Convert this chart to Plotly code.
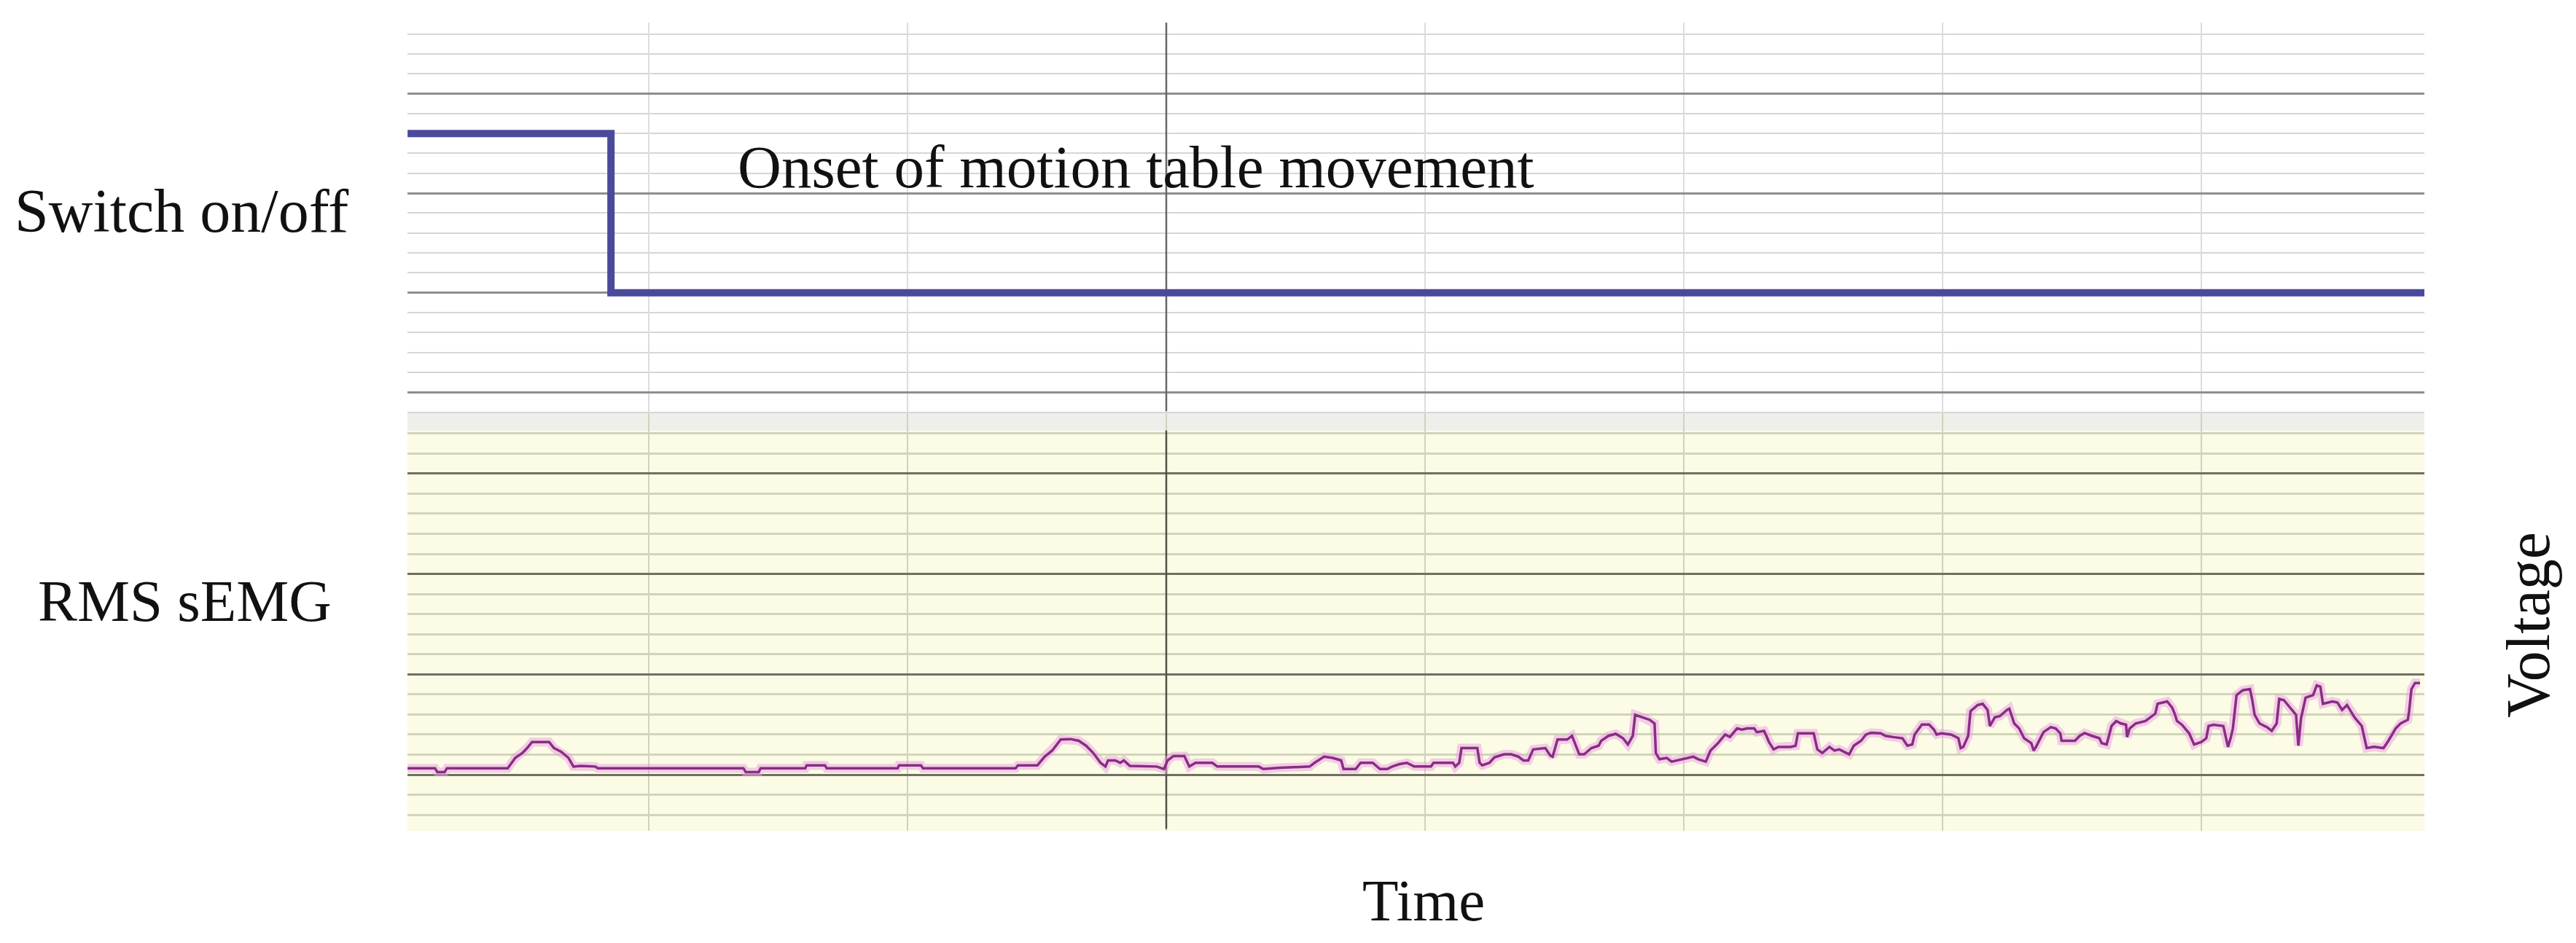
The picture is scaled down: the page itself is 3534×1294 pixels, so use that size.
import plotly.graph_objects as go

# ---------------- data ----------------
switch_time = [0.068, 0.854, 0.854, 7.87]
switch_value = [2.6, 2.6, 1.0, 1.0]

emg_time = [
    0.068, 0.174, 0.183, 0.211, 0.220, 0.455, 0.484, 0.512, 0.530, 0.549,
    0.615, 0.634, 0.662, 0.690, 0.709, 0.737, 0.794, 0.803, 1.366, 1.375,
    1.425, 1.432, 1.605, 1.610, 1.681, 1.688, 1.962, 1.967, 2.052, 2.060,
    2.418, 2.427, 2.502, 2.530, 2.559, 2.577, 2.592, 2.630, 2.662, 2.690,
    2.718, 2.746, 2.765, 2.775, 2.803, 2.822, 2.836, 2.859, 2.963, 2.991,
    3.005, 3.028, 3.070, 3.089, 3.113, 3.178, 3.197, 3.357, 3.375, 3.441,
    3.554, 3.573, 3.610, 3.643, 3.676, 3.685, 3.732, 3.751, 3.798, 3.826,
    3.854, 3.873, 3.901, 3.930, 3.958, 4.023, 4.033, 4.108, 4.117, 4.132,
    4.141, 4.202, 4.211, 4.221, 4.249, 4.268, 4.305, 4.333, 4.361, 4.380,
    4.399, 4.418, 4.465, 4.484, 4.493, 4.512, 4.549, 4.568, 4.577, 4.596,
    4.615, 4.643, 4.671, 4.681, 4.709, 4.737, 4.765, 4.784, 4.803, 4.812,
    4.840, 4.868, 4.887, 4.892, 4.906, 4.934, 4.953, 5.019, 5.037, 5.056,
    5.085, 5.103, 5.132, 5.160, 5.178, 5.206, 5.225, 5.244, 5.272, 5.282,
    5.310, 5.319, 5.329, 5.347, 5.366, 5.413, 5.432, 5.441, 5.502, 5.516,
    5.535, 5.563, 5.582, 5.601, 5.629, 5.639, 5.657, 5.685, 5.704, 5.723,
    5.761, 5.779, 5.808, 5.845, 5.864, 5.883, 5.892, 5.920, 5.948, 5.967,
    5.977, 5.995, 6.033, 6.061, 6.070, 6.080, 6.099, 6.108, 6.136, 6.155,
    6.174, 6.183, 6.202, 6.221, 6.249, 6.258, 6.277, 6.296, 6.315, 6.343,
    6.352, 6.361, 6.390, 6.418, 6.437, 6.455, 6.460, 6.512, 6.530, 6.549,
    6.577, 6.606, 6.615, 6.634, 6.643, 6.653, 6.671, 6.690, 6.709, 6.713,
    6.723, 6.746, 6.784, 6.803, 6.822, 6.831, 6.868, 6.887, 6.897, 6.906,
    6.925, 6.953, 6.972, 7.000, 7.019, 7.028, 7.047, 7.085, 7.094, 7.103,
    7.113, 7.122, 7.136, 7.160, 7.188, 7.197, 7.206, 7.225, 7.254, 7.272,
    7.291, 7.301, 7.319, 7.347, 7.366, 7.375, 7.385, 7.403, 7.432, 7.446,
    7.460, 7.470, 7.507, 7.526, 7.544, 7.563, 7.592, 7.620, 7.639, 7.667,
    7.704, 7.723, 7.751, 7.770, 7.798, 7.803, 7.812, 7.826, 7.845,
]
emg_value = [
    0.064, 0.064, 0.025, 0.025, 0.064, 0.064, 0.167, 0.216, 0.265, 0.326,
    0.326, 0.265, 0.228, 0.167, 0.081, 0.088, 0.081, 0.064, 0.064, 0.025,
    0.025, 0.064, 0.064, 0.093, 0.093, 0.064, 0.064, 0.093, 0.093, 0.064,
    0.064, 0.093, 0.093, 0.179, 0.240, 0.302, 0.350, 0.355, 0.338, 0.289,
    0.216, 0.118, 0.081, 0.142, 0.142, 0.118, 0.142, 0.088, 0.081, 0.056,
    0.142, 0.186, 0.186, 0.081, 0.118, 0.118, 0.081, 0.081, 0.056, 0.069,
    0.081, 0.118, 0.179, 0.167, 0.142, 0.056, 0.056, 0.118, 0.118, 0.056,
    0.056, 0.081, 0.105, 0.118, 0.081, 0.081, 0.118, 0.118, 0.081, 0.118,
    0.265, 0.265, 0.118, 0.093, 0.118, 0.172, 0.203, 0.203, 0.179, 0.142,
    0.142, 0.252, 0.265, 0.191, 0.179, 0.350, 0.350, 0.387, 0.326, 0.203,
    0.203, 0.265, 0.289, 0.338, 0.387, 0.407, 0.363, 0.301, 0.387, 0.596,
    0.571, 0.547, 0.510, 0.216, 0.154, 0.167, 0.130, 0.167, 0.179, 0.154,
    0.130, 0.240, 0.314, 0.400, 0.375, 0.461, 0.449, 0.461, 0.461, 0.424,
    0.436, 0.387, 0.326, 0.252, 0.277, 0.277, 0.289, 0.412, 0.412, 0.252,
    0.216, 0.277, 0.240, 0.252, 0.216, 0.203, 0.289, 0.338, 0.400, 0.417,
    0.412, 0.387, 0.375, 0.363, 0.289, 0.301, 0.400, 0.500, 0.500, 0.449,
    0.400, 0.412, 0.400, 0.363, 0.265, 0.277, 0.387, 0.632, 0.694, 0.706,
    0.645, 0.485, 0.571, 0.583, 0.645, 0.657, 0.510, 0.461, 0.363, 0.314,
    0.240, 0.277, 0.424, 0.473, 0.461, 0.412, 0.338, 0.338, 0.387, 0.415,
    0.387, 0.363, 0.314, 0.301, 0.387, 0.485, 0.534, 0.510, 0.498, 0.375,
    0.461, 0.510, 0.534, 0.571, 0.608, 0.706, 0.730, 0.669, 0.608, 0.534,
    0.498, 0.412, 0.301, 0.326, 0.363, 0.485, 0.498, 0.485, 0.387, 0.277,
    0.363, 0.461, 0.792, 0.841, 0.853, 0.743, 0.596, 0.510, 0.473, 0.436,
    0.510, 0.755, 0.743, 0.657, 0.596, 0.289, 0.559, 0.767, 0.792, 0.890,
    0.877, 0.706, 0.730, 0.718, 0.645, 0.694, 0.571, 0.485, 0.265, 0.277,
    0.265, 0.338, 0.461, 0.510, 0.547, 0.632, 0.853, 0.914, 0.914,
]

onset_time = 3.0

label_switch = "Switch on/off"
label_emg = "RMS sEMG"
label_onset = "Onset of motion table movement"
label_x = "Time"
label_y = "Voltage"

# ---------------- figure ----------------
PAGE_W, PAGE_H = 3534, 1294
OFF = 8                      # default body margin of the html page
W, H = PAGE_W - 2 * OFF, PAGE_H - 2 * OFF
FONT = "Liberation Serif, Times New Roman, serif"


def px_x(p):
    return (p - OFF) / W


def px_y(p):
    return 1 - (p - OFF) / H


fig = go.Figure()

fig.add_trace(go.Scatter(
    x=switch_time, y=switch_value, xaxis="x", yaxis="y", mode="lines",
    line=dict(color="#4A4A9C", width=10), hoverinfo="skip", showlegend=False))

fig.add_trace(go.Scatter(
    x=emg_time, y=emg_value, xaxis="x2", yaxis="y2", mode="lines",
    line=dict(color="rgba(232,160,222,0.5)", width=12), hoverinfo="skip",
    showlegend=False))
fig.add_trace(go.Scatter(
    x=emg_time, y=emg_value, xaxis="x2", yaxis="y2", mode="lines",
    line=dict(color="#8A2C86", width=3.5), hoverinfo="skip", showlegend=False))

x_dom = [px_x(559), px_x(3326)]
x_rng = [0.0676, 7.862]

common_x = dict(domain=x_dom, range=x_rng, showgrid=True, dtick=1, tick0=0,
                showticklabels=False, zeroline=False, showline=False, ticks="")

fig.update_layout(
    width=W, height=H,
    margin=dict(l=0, r=0, t=0, b=0),
    paper_bgcolor="white", plot_bgcolor="white",
    showlegend=False,
    xaxis=dict(anchor="y", gridcolor="#DCDCE3", gridwidth=1.5, **common_x),
    xaxis2=dict(anchor="y2", gridcolor="#CFD3BE", gridwidth=1.5, **common_x),
    yaxis=dict(domain=[px_y(567), px_y(31)], range=[-0.21, 3.714],
               anchor="x", dtick=1, tick0=0, showgrid=True,
               gridcolor="#8E8E8E", gridwidth=3,
               minor=dict(dtick=0.2, tick0=0, showgrid=True,
                          gridcolor="#DAD4D4", gridwidth=2),
               showticklabels=False, zeroline=False, showline=False, ticks=""),
    yaxis2=dict(domain=[px_y(1140), px_y(567)], range=[-0.559, 3.602],
                anchor="x2", dtick=1, tick0=0, showgrid=True,
                gridcolor="#6F7160", gridwidth=3,
                minor=dict(dtick=0.2, tick0=0, showgrid=True,
                           gridcolor="#D0D5BA", gridwidth=2.5),
                showticklabels=False, zeroline=False, showline=False, ticks=""),
)

shapes = [
    dict(type="rect", xref="x2 domain", yref="y2 domain", x0=0, x1=1, y0=0, y1=1,
         fillcolor="#FBFBE6", line=dict(width=0), layer="below"),
    dict(type="rect", xref="x2 domain", yref="y2", x0=0, x1=1, y0=3.43, y1=3.602,
         fillcolor="#EEEEEA", line=dict(width=0), layer="below"),
    dict(type="line", xref="x", yref="y", x0=onset_time, x1=onset_time,
         y0=-0.19, y1=3.714, line=dict(color="#666666", width=2.5), layer="between"),
    dict(type="line", xref="x2", yref="y2", x0=onset_time, x1=onset_time,
         y0=-0.54, y1=3.43, line=dict(color="#4F5243", width=2.5), layer="between"),
]
fig.update_layout(shapes=shapes)


def ann_font(s):
    return dict(family=FONT, size=s, color="#111111")


fig.update_layout(annotations=[
    dict(text=label_switch, xref="paper", yref="paper", x=px_x(18), y=px_y(290),
         xanchor="left", yanchor="middle", showarrow=False, font=ann_font(84)),
    dict(text=label_onset, xref="paper", yref="paper", x=px_x(1010), y=px_y(229),
         xanchor="left", yanchor="middle", showarrow=False, font=ann_font(83)),
    dict(text=label_emg, xref="paper", yref="paper", x=px_x(50), y=px_y(825),
         xanchor="left", yanchor="middle", showarrow=False, font=ann_font(81)),
    dict(text=label_x, xref="paper", yref="paper", x=px_x(1953), y=px_y(1236),
         xanchor="center", yanchor="middle", showarrow=False, font=ann_font(81)),
    dict(text=label_y, xref="paper", yref="paper", x=px_x(3468), y=px_y(858),
         xanchor="center", yanchor="middle", textangle=-90, showarrow=False,
         font=ann_font(84)),
])

fig.write_html("out.html", config={"displayModeBar": False})
